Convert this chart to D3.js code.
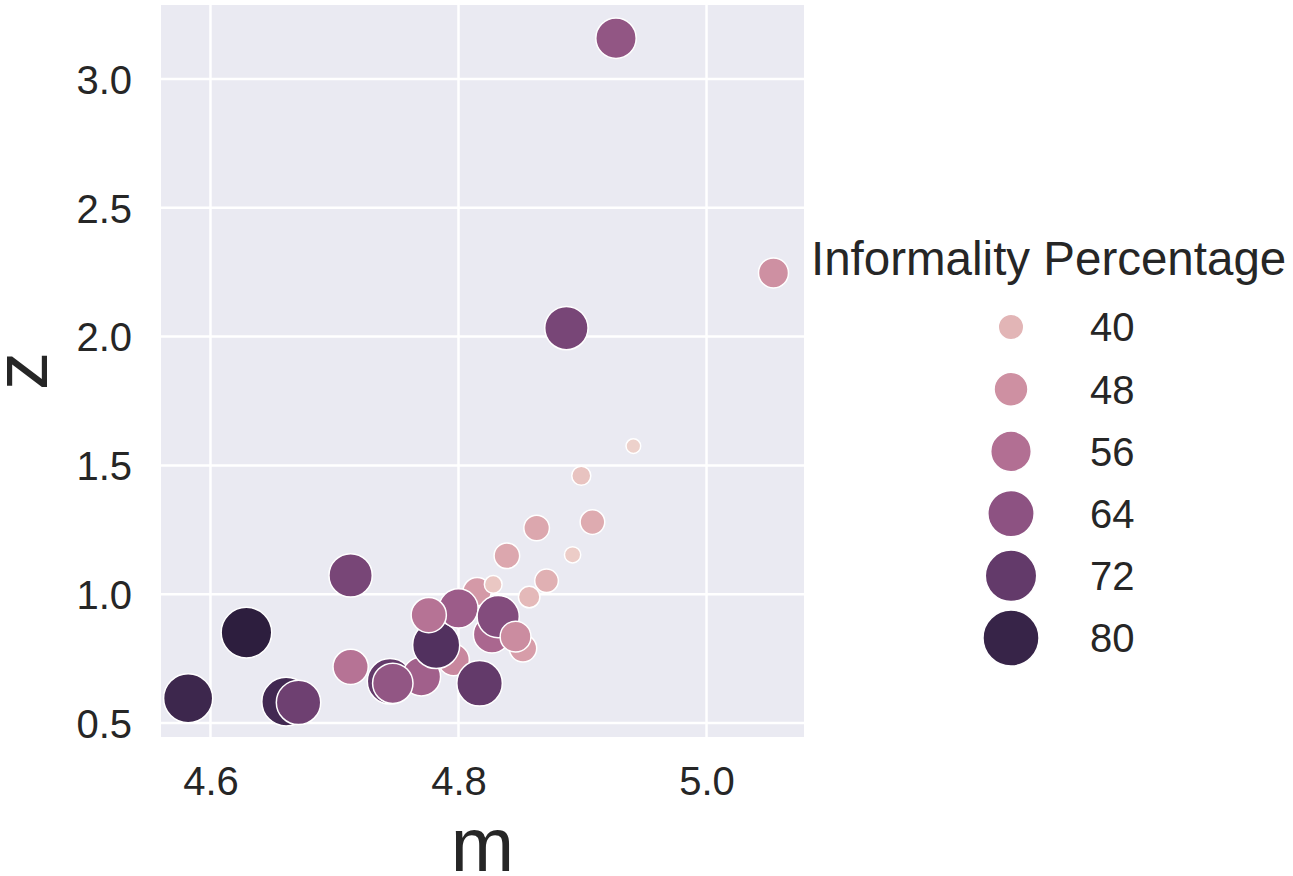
<!DOCTYPE html>
<html>
<head>
<meta charset="utf-8">
<script src="https://cdn.jsdelivr.net/npm/d3@7"></script>
<style>
  body { margin: 0; background: #fff; }
  text { font-family: "Liberation Sans", Arial, sans-serif; fill: #262626; }
</style>
</head>
<body>
<div class="container"></div>
<script>
// points in drawing order
const mValues = [4.582, 4.629, 4.661, 4.671, 4.713, 4.713, 4.7448, 4.770, 4.747, 4.796, 4.782, 4.817,
  4.815, 4.800, 4.776, 4.827, 4.852, 4.832, 4.846, 4.828, 4.857, 4.871, 4.892, 4.839, 4.863, 4.908,
  4.899, 4.941, 4.887, 5.054, 4.927]
const zValues = [0.596, 0.851, 0.583, 0.580, 1.073, 0.718, 0.662, 0.680, 0.654, 0.745, 0.803, 0.654,
  1.010, 0.945, 0.919, 0.844, 0.790, 0.913, 0.835, 1.038, 0.989, 1.052, 1.153, 1.149, 1.257, 1.280,
  1.460, 1.575, 2.033, 2.247, 3.158]
const informality = [79, 82, 78, 70, 68, 55, 72, 60, 63, 50, 75, 72,
  46, 61, 55, 58, 45, 66, 49, 36, 39, 41, 35, 43, 43, 42,
  37, 34, 68, 48, 63]

const legendLevels = [40, 48, 56, 64, 72, 80]
const xTicks = [4.6, 4.8, 5.0]
const yTicks = [0.5, 1.0, 1.5, 2.0, 2.5, 3.0]

const plot = { left: 161, right: 804, top: 5, bottom: 737 }

const svg = d3.select('.container')
  .append('svg')
  .attr('width', 1293)
  .attr('height', 876)

const x = d3.scaleLinear().domain([4.5601, 5.0786]).range([plot.left, plot.right])
const y = d3.scaleLinear().domain([0.4457, 3.287]).range([plot.bottom, plot.top])

// seaborn default cubehelix palette (light -> dark)
function cubehelix (t) {
  const v = 0.85 - 0.7 * t
  const a = 0.8 * v * (1 - v) / 2
  const phi = 2 * Math.PI * 0.4 * v
  const c = Math.cos(phi)
  const s = Math.sin(phi)
  const ch = function (p0, p1) {
    return Math.round(255 * Math.max(0, Math.min(1, v + a * (p0 * c + p1 * s))))
  }
  return d3.rgb(ch(-0.14861, 1.78277), ch(-0.29227, -0.90649), ch(1.97294, 0)).formatHex()
}

const hueNorm = d3.scaleLinear().domain([34, 82]).range([0, 1]).clamp(true)
const area = d3.scaleLinear().domain([34, 82]).range([54, 640]).clamp(true)
const radius = function (v) { return Math.sqrt(area(v)) }

// background
svg.append('rect')
  .attr('x', plot.left)
  .attr('y', plot.top)
  .attr('width', plot.right - plot.left)
  .attr('height', plot.bottom - plot.top)
  .attr('fill', '#eaeaf2')

// grid
svg.append('g')
  .selectAll('line')
  .data(xTicks)
  .join('line')
  .attr('x1', d => x(d)).attr('x2', d => x(d))
  .attr('y1', plot.top).attr('y2', plot.bottom)
  .attr('stroke', '#fff').attr('stroke-width', 2.5)

svg.append('g')
  .selectAll('line')
  .data(yTicks)
  .join('line')
  .attr('x1', plot.left).attr('x2', plot.right)
  .attr('y1', d => y(d)).attr('y2', d => y(d))
  .attr('stroke', '#fff').attr('stroke-width', 2.5)

// axes, no spines or tick marks
const xAxis = svg.append('g')
  .attr('transform', 'translate(0,' + plot.bottom + ')')
  .call(d3.axisBottom(x).tickValues(xTicks).tickFormat(d3.format('.1f')).tickSize(0).tickPadding(0))
xAxis.select('.domain').remove()
xAxis.selectAll('text')
  .attr('y', 58).attr('dy', 0)
  .style('font-size', '40px')
  .attr('font-family', null)

const yAxis = svg.append('g')
  .attr('transform', 'translate(' + plot.left + ',0)')
  .call(d3.axisLeft(y).tickValues(yTicks).tickFormat(d3.format('.1f')).tickSize(0).tickPadding(29))
yAxis.select('.domain').remove()
yAxis.selectAll('text')
  .attr('dy', '0.36em')
  .style('font-size', '40px')
  .attr('font-family', null)

// axis labels
svg.append('text')
  .attr('x', (plot.left + plot.right) / 2)
  .attr('y', 871)
  .attr('text-anchor', 'middle')
  .style('font-size', '76px')
  .text('m')

svg.append('text')
  .attr('transform', 'translate(47,' + (plot.top + plot.bottom) / 2 + ') rotate(-90)')
  .attr('text-anchor', 'middle')
  .style('font-size', '76px')
  .text('z')

// points
const points = mValues.map(function (m, i) {
  return { m: m, z: zValues[i], v: informality[i] }
})

svg.append('g')
  .selectAll('circle')
  .data(points)
  .join('circle')
  .attr('cx', d => x(d.m))
  .attr('cy', d => y(d.z))
  .attr('r', d => radius(d.v))
  .attr('fill', d => cubehelix(hueNorm(d.v)))
  .attr('stroke', '#fff')
  .attr('stroke-width', 1.5)

// legend
const legend = svg.append('g')

legend.append('text')
  .attr('x', 811)
  .attr('y', 275)
  .style('font-size', '47.5px')
  .text('Informality Percentage')

const rows = legend.selectAll('g.row')
  .data(legendLevels)
  .join('g')
  .attr('class', 'row')
  .attr('transform', (d, i) => 'translate(1011,' + (327 + i * 62.2) + ')')

rows.append('circle')
  .attr('r', d => radius(d) * 1.13)
  .attr('fill', d => cubehelix(hueNorm(d)))
  .attr('stroke', '#fff')
  .attr('stroke-width', 1.5)

rows.append('text')
  .attr('x', 79)
  .attr('dy', '0.36em')
  .style('font-size', '40px')
  .text(d => d)
</script>
</body>
</html>
